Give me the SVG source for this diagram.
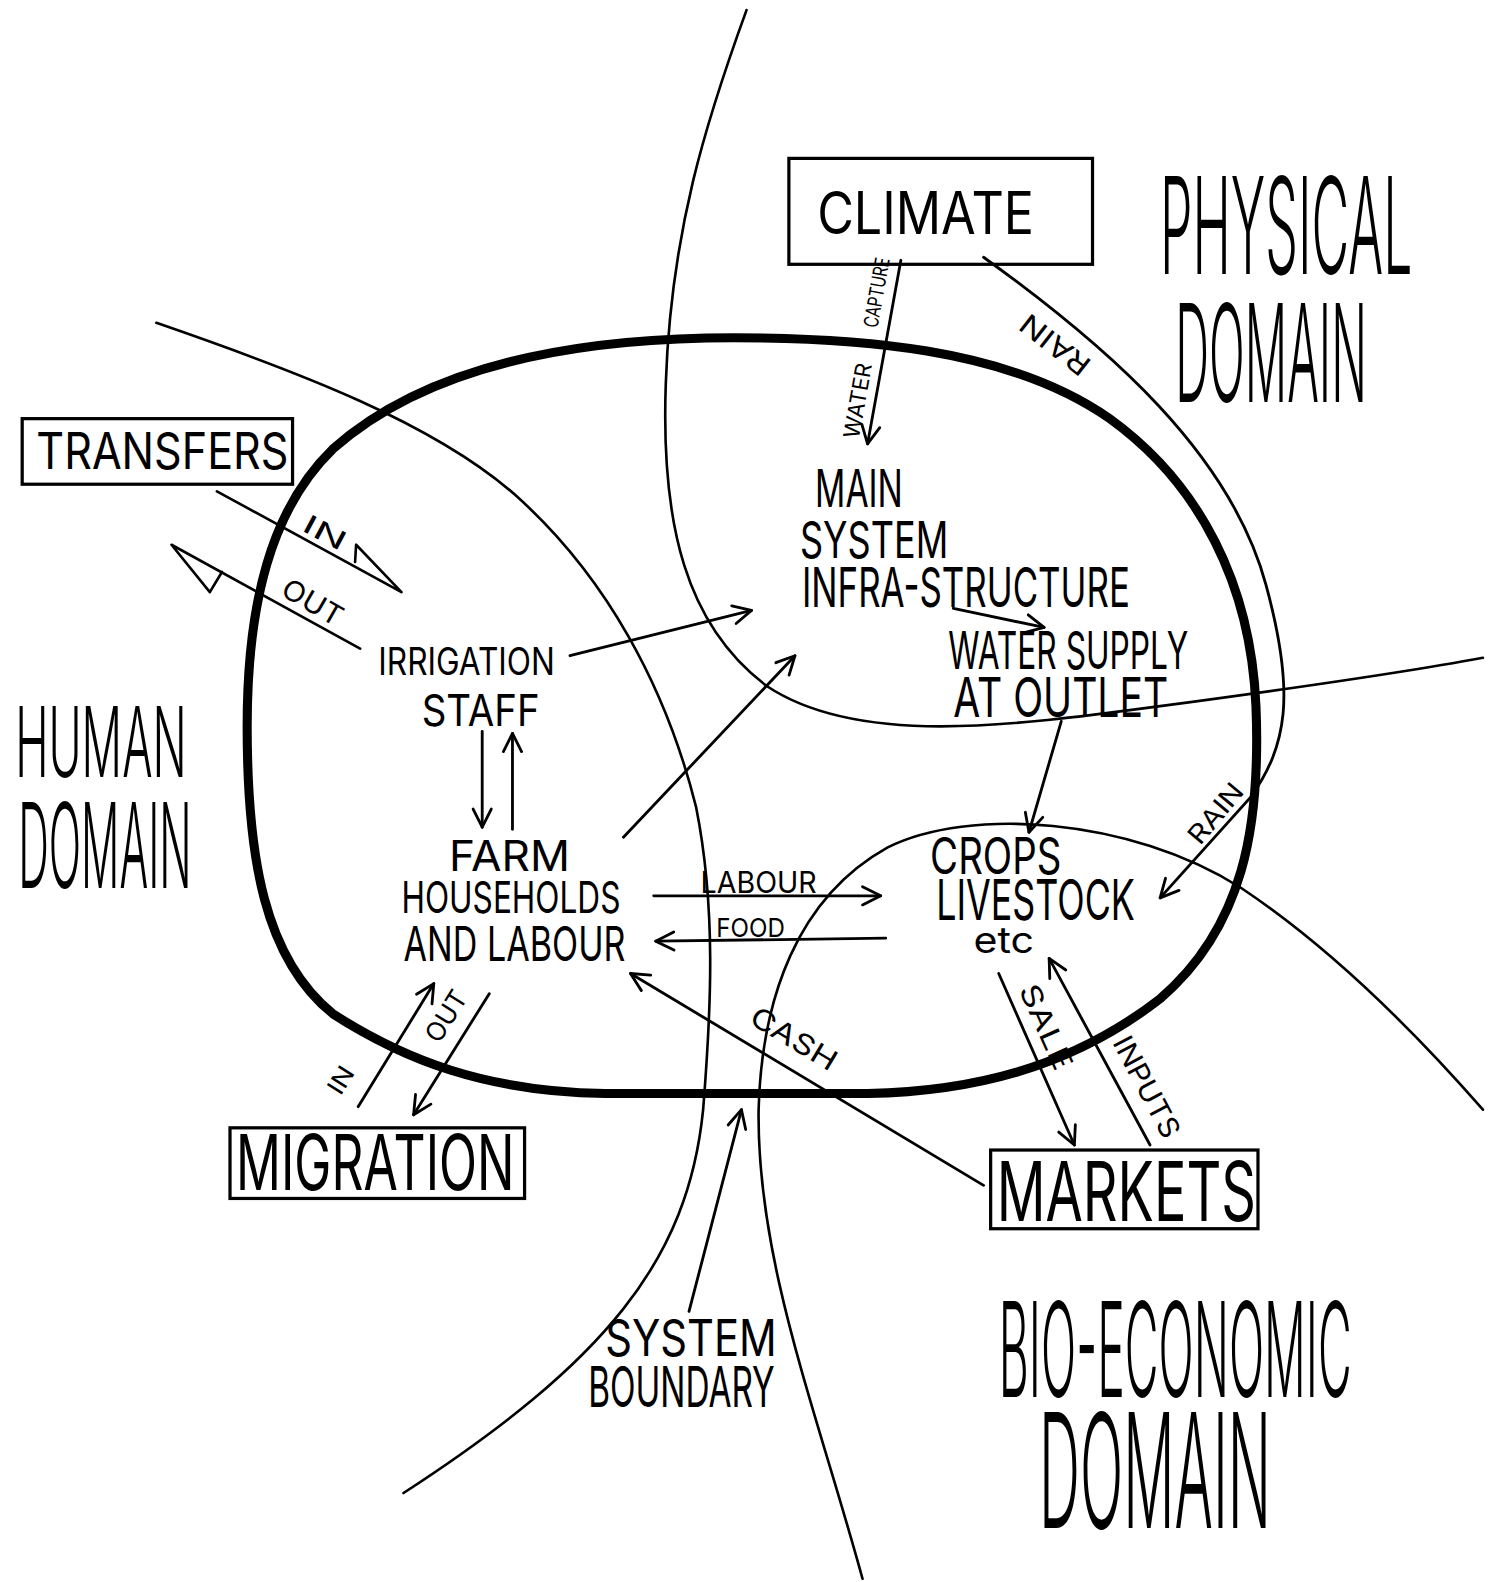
<svg xmlns="http://www.w3.org/2000/svg" width="1492" height="1582" viewBox="0 0 1492 1582">
<style>
.t{font-family:Inter,"DejaVu Sans","Liberation Sans",sans-serif;font-weight:400;fill:#000}
.d{font-family:Inter,"DejaVu Sans","Liberation Sans",sans-serif;font-weight:300;fill:#000}
.thin{fill:none;stroke:#000;stroke-width:2.6;stroke-linecap:round;stroke-linejoin:round}
.arr{fill:none;stroke:#000;stroke-width:2.8;stroke-linecap:round;marker-end:url(#ah)}
.box{fill:none;stroke:#000;stroke-width:3.2}
</style>
<defs>
<marker id="ah" viewBox="0 0 24 24" refX="21" refY="12" markerWidth="24" markerHeight="24" markerUnits="userSpaceOnUse" orient="auto">
<path d="M3,3 L21,12 L3,21" fill="none" stroke="#000" stroke-width="2.8" stroke-linecap="round" stroke-linejoin="round"/>
</marker>
</defs>
<rect width="1492" height="1582" fill="#fff"/>
<g transform="scale(1.0088)">
<g id="boundaries">
<path class="thin" d="M155,320 C300,370 430,420 510,490 C600,570 660,680 690,800 C710,900 705,1000 697,1100 C682,1250 600,1350 400,1480"/>
<path class="thin" d="M740,10 C700,120 665,230 660,380 C655,520 680,620 760,680 C850,740 1000,720 1150,700 C1300,680 1400,665 1470,652"/>
<path class="thin" d="M1470,1100 C1400,1020 1320,940 1230,880 C1120,810 960,800 880,840 C790,890 755,990 752,1100 C750,1250 810,1400 855,1565"/>
<path id="system-loop" d="M700,335 C850,333 1000,345 1100,415 C1190,480 1240,580 1245,700 C1250,820 1232,920 1150,990 C1060,1060 960,1082 860,1084 L600,1084 C480,1082 400,1050 330,1005 C262,950 245,850 245,720 C245,600 268,505 330,445 C420,365 560,338 700,335 Z" fill="none" stroke="#000" stroke-width="9"/>
</g>
<g id="connectors">
<path class="arr" d="M893,258 L860,440"/>
<path class="arr" d="M975,255 C1100,345 1220,450 1255,580 C1285,690 1275,740 1240,790 L1150,890"/>
<path class="arr" d="M565,650 L745,605"/>
<path class="arr" d="M618,830 L788,650"/>
<path class="arr" d="M478,725 L478,820"/>
<path class="arr" d="M508,822 L508,727"/>
<path class="arr" d="M945,603 L1035,622"/>
<path class="arr" d="M1052,715 L1020,825"/>
<path class="arr" d="M648,888 L873,888"/>
<path class="arr" d="M878,930 L650,933"/>
<path class="arr" d="M975,1175 L625,965"/>
<path class="arr" d="M355,1097 L430,975"/>
<path class="arr" d="M485,985 L410,1105"/>
<path class="arr" d="M990,965 L1065,1135"/>
<path class="arr" d="M1140,1135 L1040,950"/>
<path class="arr" d="M683,1300 L735,1100"/>
<path class="thin" d="M215,487 L398,587 L353,540 L352,557"/>
<path class="thin" d="M357,643 L170,540 L208,587 L220,567"/>
</g>
<g id="climate">
<rect class="box" x="782" y="157" width="301" height="105"/>
<text class="t" x="810" y="232" font-size="58" textLength="215" lengthAdjust="spacingAndGlyphs">CLIMATE</text>
</g>
<g id="transfers">
<rect class="box" x="22" y="415" width="268" height="65"/>
<text class="t" x="36" y="465" font-size="50" textLength="250" lengthAdjust="spacingAndGlyphs">TRANSFERS</text>
</g>
<g id="migration">
<rect class="box" x="228" y="1118" width="292" height="70"/>
<text class="t" x="234" y="1180" font-size="76" textLength="276" lengthAdjust="spacingAndGlyphs">MIGRATION</text>
</g>
<g id="markets">
<rect class="box" x="982" y="1140" width="265" height="78"/>
<text class="t" x="988" y="1210" font-size="82" textLength="257" lengthAdjust="spacingAndGlyphs">MARKETS</text>
</g>
<g id="irrigation-staff">
<text class="t" x="375" y="669" font-size="38" textLength="175" lengthAdjust="spacingAndGlyphs">IRRIGATION</text>
<text class="t" x="418" y="720" font-size="44" textLength="117" lengthAdjust="spacingAndGlyphs">STAFF</text>
</g>
<g id="farm-households">
<text class="t" x="445" y="863" font-size="42" textLength="120" lengthAdjust="spacingAndGlyphs">FARM</text>
<text class="t" x="398" y="905" font-size="44" textLength="217" lengthAdjust="spacingAndGlyphs">HOUSEHOLDS</text>
<text class="t" x="400" y="953" font-size="48" textLength="220" lengthAdjust="spacingAndGlyphs">AND LABOUR</text>
</g>
<g id="main-system">
<text class="t" x="808" y="503" font-size="52" textLength="87" lengthAdjust="spacingAndGlyphs">MAIN</text>
<text class="t" x="793" y="553" font-size="50" textLength="147" lengthAdjust="spacingAndGlyphs">SYSTEM</text>
<text class="t" x="795" y="602" font-size="54" textLength="325" lengthAdjust="spacingAndGlyphs">INFRA-STRUCTURE</text>
</g>
<g id="water-supply">
<text class="t" x="940" y="663" font-size="52" textLength="238" lengthAdjust="spacingAndGlyphs">WATER SUPPLY</text>
<text class="t" x="945" y="711" font-size="54" textLength="213" lengthAdjust="spacingAndGlyphs">AT OUTLET</text>
</g>
<g id="crops">
<text class="t" x="922" y="866" font-size="50" textLength="130" lengthAdjust="spacingAndGlyphs">CROPS</text>
<text class="t" x="928" y="912" font-size="56" textLength="197" lengthAdjust="spacingAndGlyphs">LIVESTOCK</text>
<text class="t" x="965" y="945" font-size="36" textLength="60" lengthAdjust="spacingAndGlyphs">etc</text>
</g>
<g id="system-boundary-label">
<text class="t" x="600" y="1344" font-size="50" textLength="170" lengthAdjust="spacingAndGlyphs">SYSTEM</text>
<text class="t" x="583" y="1395" font-size="56" textLength="185" lengthAdjust="spacingAndGlyphs">BOUNDARY</text>
</g>
<g id="domains">
<text class="d" x="0" y="0" font-size="45" transform="translate(15,770) scale(1,2.14)" textLength="170" lengthAdjust="spacingAndGlyphs">HUMAN</text>
<text class="d" x="0" y="0" font-size="42" transform="translate(18,880) scale(1,2.78)" textLength="172" lengthAdjust="spacingAndGlyphs">DOMAIN</text>
<text class="d" x="0" y="0" font-size="52" transform="translate(1150,272) scale(1,2.57)" textLength="250" lengthAdjust="spacingAndGlyphs">PHYSICAL</text>
<text class="d" x="0" y="0" font-size="47" transform="translate(1165,398) scale(1,2.87)" textLength="190" lengthAdjust="spacingAndGlyphs">DOMAIN</text>
<text class="d" x="0" y="0" font-size="47" transform="translate(990,1385) scale(1,2.78)" textLength="350" lengthAdjust="spacingAndGlyphs">BIO-ECONOMIC</text>
<text class="d" x="0" y="0" font-size="56" transform="translate(1030,1515) scale(1,2.82)" textLength="230" lengthAdjust="spacingAndGlyphs">DOMAIN</text>
</g>
<g id="flow-labels">
<text class="t" font-size="30" text-anchor="middle" x="0" y="0" transform="translate(752,885)" textLength="115" lengthAdjust="spacingAndGlyphs">LABOUR</text>
<text class="t" font-size="26" text-anchor="middle" x="0" y="0" transform="translate(744,929)" textLength="68" lengthAdjust="spacingAndGlyphs">FOOD</text>
<text class="t" font-size="26" text-anchor="middle" x="0" y="9" transform="translate(322,528) rotate(28)" textLength="45" lengthAdjust="spacingAndGlyphs">IN</text>
<text class="t" font-size="28" text-anchor="middle" x="0" y="10" transform="translate(310,597) rotate(30)" textLength="65" lengthAdjust="spacingAndGlyphs">OUT</text>
<text class="t" font-size="22" text-anchor="middle" x="0" y="8" transform="translate(850,397) rotate(-80)" textLength="75" lengthAdjust="spacingAndGlyphs">WATER</text>
<text class="t" font-size="20" text-anchor="middle" x="0" y="7" transform="translate(869,290) rotate(-80)" textLength="70" lengthAdjust="spacingAndGlyphs">CAPTURE</text>
<text class="t" font-size="28" text-anchor="middle" x="0" y="0" transform="translate(1052,334) rotate(218)" textLength="80" lengthAdjust="spacingAndGlyphs">RAIN</text>
<text class="t" font-size="26" text-anchor="middle" x="0" y="0" transform="translate(1212,812) rotate(-50)" textLength="70" lengthAdjust="spacingAndGlyphs">RAIN</text>
<text class="t" font-size="28" text-anchor="middle" x="0" y="0" transform="translate(782,1038) rotate(31)" textLength="95" lengthAdjust="spacingAndGlyphs">CASH</text>
<text class="t" font-size="24" text-anchor="middle" x="0" y="0" transform="translate(345,1075) rotate(-58)" textLength="28" lengthAdjust="spacingAndGlyphs">IN</text>
<text class="t" font-size="26" text-anchor="middle" x="0" y="0" transform="translate(450,1012) rotate(-58)" textLength="55" lengthAdjust="spacingAndGlyphs">OUT</text>
<text class="t" font-size="28" text-anchor="middle" x="0" y="0" transform="translate(1028,1022) rotate(66)" textLength="90" lengthAdjust="spacingAndGlyphs">SALE</text>
<text class="t" font-size="28" text-anchor="middle" x="0" y="0" transform="translate(1128,1082) rotate(62)" textLength="110" lengthAdjust="spacingAndGlyphs">INPUTS</text>
</g>
</g>
</svg>
